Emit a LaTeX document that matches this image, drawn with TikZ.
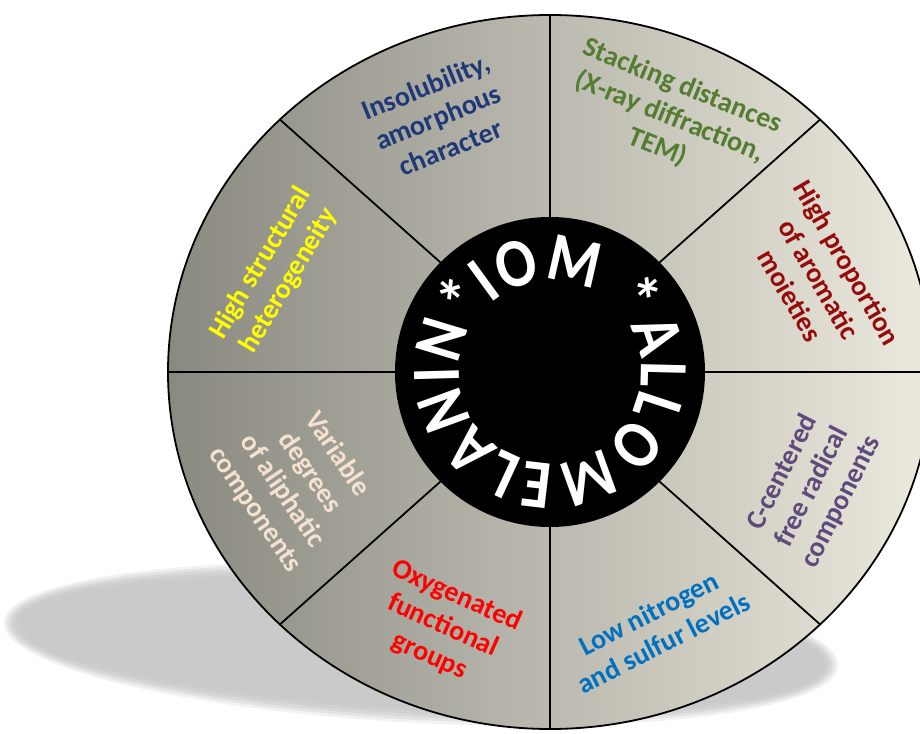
\documentclass[tikz,border=0pt]{standalone}
\usepackage{fontspec}
\setmainfont{Carlito}
\newfontfamily\ringfamily[FakeStretch=0.86]{Carlito}
\usetikzlibrary{decorations.text}
\definecolor{wheeldark}{RGB}{138,137,128}
\definecolor{wheellight}{RGB}{236,234,222}
\definecolor{shadowgray}{RGB}{202,202,202}
\definecolor{navytxt}{RGB}{31,56,120}
\definecolor{olivetxt}{RGB}{84,125,50}
\definecolor{darkredtxt}{RGB}{150,10,10}
\definecolor{purpletxt}{RGB}{96,74,123}
\definecolor{bluetxt}{RGB}{0,112,192}
\definecolor{redtxt}{RGB}{255,0,0}
\definecolor{peachtxt}{RGB}{245,225,208}
\definecolor{yellowtxt}{RGB}{255,255,0}
\newcommand*\ringfont{\ringfamily\fontsize{69}{69}\selectfont\bfseries}
\tikzset{
  wheeltext/.style={align=center,font=\fontsize{28}{33}\selectfont\bfseries,inner sep=0pt},
  spoke/.style={line width=1.8pt,black},
}

\begin{document}
\begin{tikzpicture}[x=1pt,y=1pt,line cap=round,line join=round]
\clip (-550,-361) rectangle (370,372);
% soft shadow under the wheel
\foreach \d/\o in {9/.25,6/.35,3/.45,0/.55,-3/.7,-6/.9}{
  \fill[shadowgray,fill opacity=\o,rotate around={-3:(-129,-272)}]
    (-129,-272) ellipse [x radius=409+\d,y radius=70+\d];
}
% wheel and spokes
\draw[spoke,left color=wheeldark,right color=wheellight]
  (0,0) ellipse [x radius=382,y radius=357];
\foreach \a in {0,45,...,315}{
  \draw[spoke] (\a:155) -- ({382*cos(\a)},{357*sin(\a)});
}
\fill[black] (0,0) circle [radius=155];
\path[decorate,decoration={text along path,text color=white,
    text={|\ringfont|IOM *ALLOMELANIN*},text align=fit to path}]
  (131:91) arc [start angle=131,delta angle=-359.9,radius=91];

\node[wheeltext,text=navytxt,rotate=22] (insol) at (-112,255)
  {Insolubility,\\amorphous\\character};
\node[wheeltext,text=olivetxt,rotate=-22] (stack) at (120,255)
  {Stacking distances\\(X-ray diffraction,\\TEM)};
\node[wheeltext,text=darkredtxt,rotate=-60] (arom) at (269,93)
  {High proportion\\of aromatic\\moieties};
\node[wheeltext,text=purpletxt,rotate=63] (radic) at (262,-115)
  {C-centered\\free radical\\components};
\node[wheeltext,text=bluetxt,rotate=27] (lown) at (106,-256)
  {Low nitrogen\\and sulfur levels};
\node[wheeltext,text=redtxt,rotate=-24] (oxyg) at (-107,-254)
  {Oxygenated\\functional\\groups};
\node[wheeltext,text=peachtxt,rotate=-56] (aliph) at (-254,-110)
  {Variable\\degrees\\of aliphatic\\components};
\node[wheeltext,text=yellowtxt,rotate=59] (hetero) at (-275,100)
  {High structural\\heterogeneity};
\end{tikzpicture}
\end{document}
